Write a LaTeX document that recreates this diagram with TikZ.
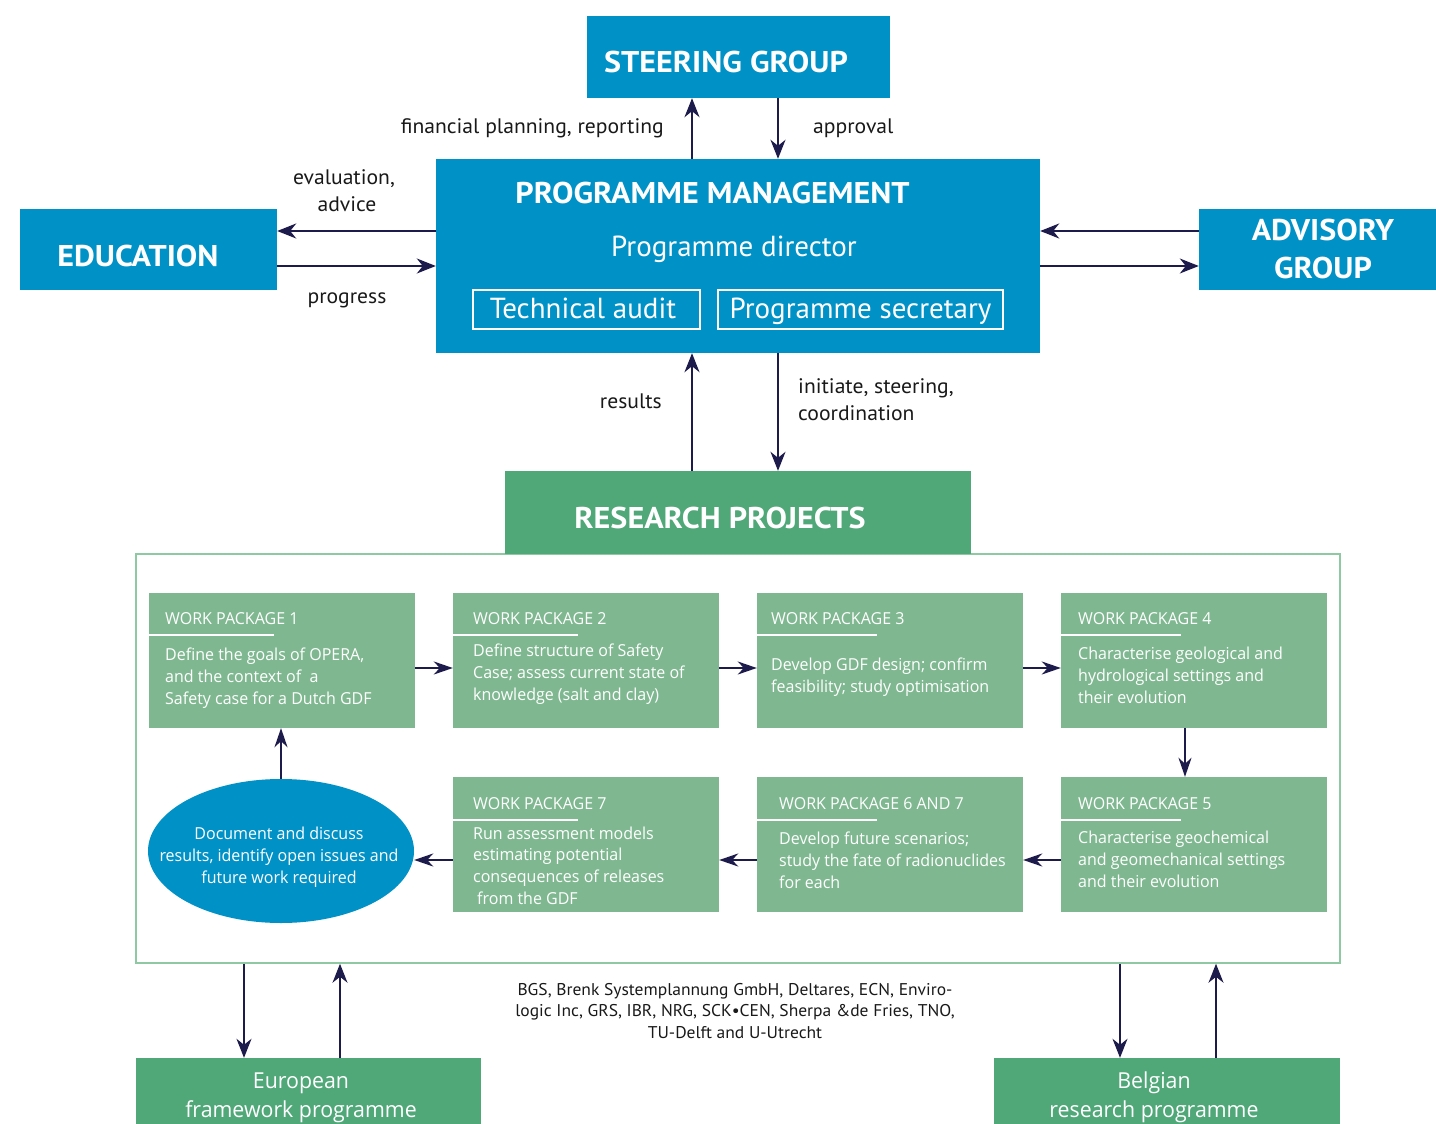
\documentclass[tikz,border=0pt]{standalone}
\usepackage{fontspec}
\usetikzlibrary{arrows.meta,shapes.geometric}
\newfontfamily\hfont[FakeStretch=1.07]{PT Sans}
\newfontfamily\pfont[FakeStretch=1.0]{PT Sans}
\newfontfamily\lfont[FakeStretch=1.03]{PT Sans}
\newfontfamily\wfont[FakeStretch=0.97]{Open Sans}
\definecolor{pmblue}{RGB}{0,145,199}
\definecolor{dgreen}{RGB}{80,167,120}
\definecolor{wpgreen}{RGB}{127,184,144}
\definecolor{frgreen}{RGB}{143,201,163}
\definecolor{navy}{RGB}{28,27,75}
\definecolor{lbl}{RGB}{25,25,25}
\tikzset{
  bluebox/.style={rectangle,fill=pmblue,draw=none,inner sep=0pt},
  greenbox/.style={rectangle,fill=dgreen,draw=none,inner sep=0pt},
  wpbox/.style={rectangle,fill=wpgreen,draw=none,inner sep=0pt,minimum width=266pt,minimum height=135pt},
  subbox/.style={rectangle,draw=white,line width=1.2pt,inner sep=0pt},
  txt/.style={inner sep=0pt,text=white},
  head/.style={txt,font=\hfont\bfseries\fontsize{30}{34}\selectfont},
  lab/.style={inner sep=0pt,text=lbl,font=\lfont\fontsize{21}{27}\selectfont,align=center},
  wphead/.style={txt,anchor=base west,font=\wfont\fontsize{16.5}{21.5}\selectfont},
  wpbody/.style={txt,anchor=base west,align=left,font=\wfont\fontsize{16.5}{21.6}\selectfont},
  uline/.style={draw=white,line width=1.5pt},
  arr/.style={draw=navy,line width=1.8pt,-{Stealth[length=19pt,width=15pt,inset=6pt]}},
  warr/.style={draw=navy,line width=1.8pt,-{Stealth[length=19pt,width=13pt,inset=6pt]}},
}
\begin{document}
\begin{tikzpicture}[x=1pt,y=-1pt]
\useasboundingbox (0,0) rectangle (1436,1124);
% top boxes
\node[bluebox,minimum width=303pt,minimum height=82pt] (steer) at (738.5,57) {};
\node[head,anchor=base] (steert) at (726,73) {STEERING GROUP};
\node[bluebox,minimum width=604pt,minimum height=194pt] (pm) at (738,256) {};
\node[head,anchor=base] (pmt) at (712.5,203) {PROGRAMME MANAGEMENT};
\node[txt,anchor=base,font=\pfont\fontsize{29}{34}\selectfont] (pmd) at (734,256) {Programme director};
\node[subbox,minimum width=227pt,minimum height=39pt] (ta) at (586.5,309.5) {};
\node[txt,anchor=base,font=\pfont\fontsize{29}{34}\selectfont] (tat) at (583,318) {Technical audit};
\node[subbox,minimum width=285pt,minimum height=39pt] (ps) at (860.5,309.5) {};
\node[txt,anchor=base,font=\pfont\fontsize{29}{34}\selectfont] (pst) at (860.5,318) {Programme secretary};
\node[bluebox,minimum width=257pt,minimum height=81pt] (edu) at (148.5,249.5) {};
\node[head,anchor=base] (edut) at (138,266) {EDUCATION};
\node[bluebox,minimum width=237pt,minimum height=81pt] (adv) at (1317.5,249.5) {};
\node[head,anchor=base] (advt) at (1323,240) {ADVISORY};
\node[head,anchor=base] (advt2) at (1323,278) {GROUP};
% labels
\node[lab,anchor=base east] (l1) at (664,133) {financial planning, reporting};
\node[lab,anchor=base west] (l2) at (813,133) {approval};
\node[lab,anchor=base] (l3) at (344,184) {evaluation,};
\node[lab,anchor=base] (l3b) at (347,211) {advice};
\node[lab,anchor=base] (l4) at (347,303) {progress};
\node[lab,anchor=base east] (l5) at (662,408) {results};
\node[lab,anchor=base west] (l6) at (798,393) {initiate, steering,};
\node[lab,anchor=base west] (l6b) at (798,420) {coordination};
% arrows top
\draw[arr] ([xshift=-46pt]pm.north) -- ([xshift=-46pt]pm.north |- steer.south);
\draw[arr] ([xshift=40pt]pm.north |- steer.south) -- ([xshift=40pt]pm.north);
\draw[arr] ([yshift=25pt]pm.west) -- ([yshift=25pt]pm.west -| edu.east);
\draw[arr] ([yshift=-10pt]pm.west -| edu.east) -- ([yshift=-10pt]pm.west);
\draw[arr] ([yshift=25pt]pm.east -| adv.west) -- ([yshift=25pt]pm.east);
\draw[arr] ([yshift=-10pt]pm.east) -- ([yshift=-10pt]pm.east -| adv.west);
% research
\node[rectangle,draw=frgreen,line width=1.5pt,minimum width=1204pt,minimum height=409pt,inner sep=0pt] (frame) at (738,758.5) {};
\node[greenbox,minimum width=466pt,minimum height=83pt] (rp) at (738,512.5) {};
\node[head,anchor=base] (rpt) at (720,528) {RESEARCH PROJECTS};
\draw[arr] ([xshift=-46pt]rp.north) -- ([xshift=-46pt]rp.north |- pm.south);
\draw[arr] ([xshift=40pt]rp.north |- pm.south) -- ([xshift=40pt]rp.north);
% work packages
\node[wpbox] (wp1) at (282,660.5) {};
\node[wpbox] (wp2) at (586,660.5) {};
\node[wpbox] (wp3) at (890,660.5) {};
\node[wpbox] (wp4) at (1194,660.5) {};
\node[wpbox] (wp7) at (586,844.5) {};
\node[wpbox] (wp67) at (890,844.5) {};
\node[wpbox] (wp5) at (1194,844.5) {};
\node[ellipse,fill=pmblue,draw=none,inner sep=0pt,minimum width=266pt,minimum height=144pt] (ell) at (281,851) {};
% headers
\node[wphead] (h1) at (165,624) {WORK PACKAGE 1};
\node[wphead] (h2) at (473,624) {WORK PACKAGE 2};
\node[wphead] (h3) at (771,624) {WORK PACKAGE 3};
\node[wphead] (h4) at (1078,624) {WORK PACKAGE 4};
\node[wphead] (h7) at (473,809) {WORK PACKAGE 7};
\node[wphead] (h67) at (779,809) {WORK PACKAGE 6 AND 7};
\node[wphead] (h5) at (1078,809) {WORK PACKAGE 5};
\draw[uline] (wp1.west |- 0,635) -- ++(125,0);
\draw[uline] (wp2.west |- 0,635) -- ++(125,0);
\draw[uline] (wp3.west |- 0,635) -- ++(120,0);
\draw[uline] (wp4.west |- 0,635) -- ++(120,0);
\draw[uline] (wp7.west |- 0,820) -- ++(125,0);
\draw[uline] (wp67.west |- 0,820) -- ++(120,0);
\draw[uline] (wp5.west |- 0,820) -- ++(120,0);
% bodies (base = last line)
\node[wpbody] (b1) at (165,704) {Define the goals of OPERA,\\and the context of~ a\\Safety case for a Dutch GDF};
\node[wpbody] (b2) at (473,700) {Define structure of Safety\\Case; assess current state of\\knowledge (salt and clay)};
\node[wpbody] (b3) at (771,692) {Develop GDF design; confirm\\feasibility; study optimisation};
\node[wpbody] (b4) at (1078,703) {Characterise geological and\\hydrological settings and\\their evolution};
\node[wpbody] (b7) at (473,904) {Run assessment models\\estimating potential\\consequences of releases\\\hspace{4pt}from the GDF};
\node[wpbody] (b67) at (779,888) {Develop future scenarios;\\study the fate of radionuclides\\for each};
\node[wpbody] (b5) at (1078,887) {Characterise geochemical\\and geomechanical settings\\and their evolution};
\node[txt,anchor=base,align=center,font=\wfont\fontsize{16.5}{21.6}\selectfont] (et) at (279,883) {Document and discuss\\results, identify open issues and\\future work required};
% wp arrows
\draw[warr] ([yshift=-7.5pt]wp1.east) -- ([yshift=-7.5pt]wp1.east -| wp2.west);
\draw[warr] ([yshift=-7.5pt]wp2.east) -- ([yshift=-7.5pt]wp2.east -| wp3.west);
\draw[warr] ([yshift=-7.5pt]wp3.east) -- ([yshift=-7.5pt]wp3.east -| wp4.west);
\draw[warr] ([xshift=-9pt]wp4.south) -- ([xshift=-9pt]wp4.south |- wp5.north);
\draw[warr] ([yshift=-15.5pt]wp5.west) -- ([yshift=-15.5pt]wp5.west -| wp67.east);
\draw[warr] ([yshift=-15.5pt]wp67.west) -- ([yshift=-15.5pt]wp67.west -| wp7.east);
\draw[warr] ([yshift=-15.5pt]wp7.west) -- ([yshift=-15.5pt]wp7.west -| ell.east);
\draw[warr] (ell.north) -- (ell.north |- wp1.south);
% bottom
\node[greenbox,minimum width=345pt,minimum height=80pt] (eu) at (308.5,1098) {};
\node[txt,anchor=base,align=center,font=\wfont\fontsize{22}{29}\selectfont] (eut) at (301,1117) {European\\framework programme};
\node[greenbox,minimum width=346pt,minimum height=80pt] (be) at (1167,1098) {};
\node[txt,anchor=base,align=center,font=\wfont\fontsize{22}{29}\selectfont] (bet) at (1154,1117) {Belgian\\research programme};
\node[anchor=base,align=center,inner sep=0pt,text=lbl,font=\lfont\fontsize{17}{21.5}\selectfont] (cred) at (735,1038) {BGS, Brenk Systemplannung GmbH, Deltares, ECN, Enviro-\\logic Inc, GRS, IBR, NRG, SCK\textbullet CEN, Sherpa \&de Fries, TNO,\\TU-Delft and U-Utrecht};
\draw[arr,line width=1.5pt] ([xshift=-64.5pt]eu.north |- frame.south) -- ([xshift=-64.5pt]eu.north);
\draw[arr,line width=1.5pt] ([xshift=31.5pt]eu.north) -- ([xshift=31.5pt]eu.north |- frame.south);
\draw[arr,line width=1.5pt] ([xshift=-47pt]be.north |- frame.south) -- ([xshift=-47pt]be.north);
\draw[arr,line width=1.5pt] ([xshift=49pt]be.north) -- ([xshift=49pt]be.north |- frame.south);
\end{tikzpicture}
\end{document}
